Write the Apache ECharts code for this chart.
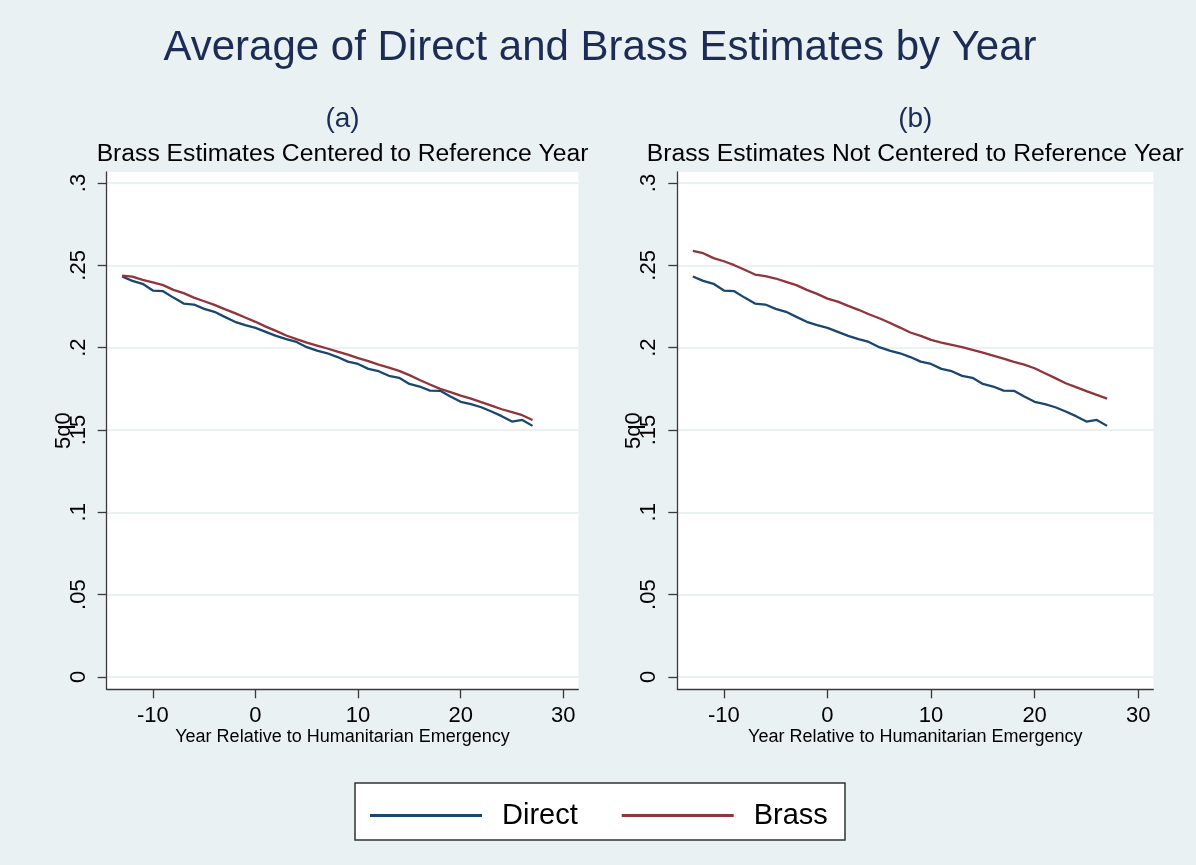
<!DOCTYPE html>
<html>
<head>
<meta charset="utf-8">
<title>Average of Direct and Brass Estimates by Year</title>
<script src="https://cdn.jsdelivr.net/npm/echarts@6/dist/echarts.min.js"></script>
<style>
  html, body { margin: 0; padding: 0; background: #eaf1f3; }
  #chart { width: 1196px; height: 865px; }
</style>
</head>
<body>
<div id="chart"></div>
<script>
// Years relative to the humanitarian emergency
const years = [-13, -12, -11, -10, -9, -8, -7, -6, -5, -4, -3, -2, -1, 0, 1, 2, 3, 4, 5, 6, 7,
  8, 9, 10, 11, 12, 13, 14, 15, 16, 17, 18, 19, 20, 21, 22, 23, 24, 25, 26, 27];

// 5q0, direct estimates
const direct = [0.2432, 0.2406, 0.2388, 0.2347, 0.2343, 0.2304, 0.2268, 0.2262, 0.2236, 0.2218,
  0.2187, 0.2157, 0.2137, 0.2120, 0.2096, 0.2072, 0.2052, 0.2035, 0.2003, 0.1982, 0.1966,
  0.1943, 0.1915, 0.1901, 0.1871, 0.1857, 0.1829, 0.1817, 0.1780, 0.1764, 0.1739, 0.1738,
  0.1703, 0.1671, 0.1657, 0.1638, 0.1612, 0.1584, 0.1551, 0.1561, 0.1525];

// 5q0, Brass estimates centered to reference year
const brassCentered = [0.2438, 0.2432, 0.2412, 0.2396, 0.2380, 0.2351, 0.2331, 0.2304, 0.2282, 0.2260,
  0.2234, 0.2210, 0.2183, 0.2157, 0.2128, 0.2102, 0.2074, 0.2052, 0.2031, 0.2013, 0.1995,
  0.1976, 0.1958, 0.1936, 0.1918, 0.1897, 0.1879, 0.1859, 0.1833, 0.1804, 0.1776, 0.1750,
  0.1730, 0.1709, 0.1691, 0.1669, 0.1648, 0.1626, 0.1608, 0.1590, 0.1561];

// 5q0, Brass estimates not centered to reference year
const brassNotCentered = [0.2588, 0.2574, 0.2544, 0.2525, 0.2501, 0.2473, 0.2444, 0.2434, 0.2420, 0.2400,
  0.2380, 0.2351, 0.2327, 0.2298, 0.2280, 0.2254, 0.2230, 0.2203, 0.2179, 0.2151, 0.2122,
  0.2092, 0.2072, 0.2047, 0.2031, 0.2017, 0.2003, 0.1987, 0.1970, 0.1952, 0.1934, 0.1914,
  0.1897, 0.1875, 0.1845, 0.1815, 0.1784, 0.1760, 0.1736, 0.1713, 0.1691];

const xTicks = [-10, 0, 10, 20, 30];
const yTicks = [0, 0.05, 0.1, 0.15, 0.2, 0.25, 0.3];

const panelTitles = ['(a)', '(b)'];
const panelSubtitles = ['Brass Estimates Centered to Reference Year',
  'Brass Estimates Not Centered to Reference Year'];

const FONT = '"Liberation Sans", Arial, Helvetica, sans-serif';
const NAVY = '#1c2c55';
const BG = '#eaf1f3';
const AXIS = '#3a3a3a';
const C_DIRECT = '#1a476f';
const C_BRASS = '#90353b';

const grids = [
  { left: 106.7, top: 172, width: 471.6, height: 517.3 },
  { left: 677.3, top: 172, width: 476, height: 517.3 }
];

function pairs(ys) { return years.map((x, i) => [x, ys[i]]); }

function xAxisFor(idx) {
  return {
    gridIndex: idx, type: 'value', min: -14.5, max: 31.46,
    name: 'Year Relative to Humanitarian Emergency',
    nameLocation: 'middle', nameGap: 39, nameMoveOverlap: false,
    nameTextStyle: { fontFamily: FONT, fontSize: 18, color: '#000' },
    axisLine: { show: true, onZero: false, lineStyle: { color: AXIS, width: 1.3 } },
    axisTick: { show: true, length: 9, customValues: xTicks, lineStyle: { color: AXIS, width: 1.3 } },
    axisLabel: { customValues: xTicks, margin: 16, fontFamily: FONT, fontSize: 22, color: '#000' },
    splitLine: { show: false }
  };
}

function yAxisFor(idx) {
  return {
    gridIndex: idx, type: 'value', min: -0.0075, max: 0.3067,
    // the 5q0 title sits over the tick labels, as drawn
    name: '5q0', nameLocation: 'middle', nameGap: 32, nameRotate: 90, nameMoveOverlap: false,
    nameTextStyle: { fontFamily: FONT, fontSize: 22, color: '#000' },
    axisLine: { show: true, onZero: false, lineStyle: { color: AXIS, width: 1.3 } },
    axisTick: { show: true, length: 9, customValues: yTicks, lineStyle: { color: AXIS, width: 1.3 } },
    axisLabel: {
      customValues: yTicks, rotate: 90, margin: 17, fontFamily: FONT, fontSize: 22, color: '#000',
      formatter: v => (v === 0 ? '0' : String(+v.toFixed(2)).replace(/^0/, ''))
    },
    splitLine: { show: true, lineStyle: { color: BG, width: 2 } }
  };
}

function lineSeries(name, data, color, idx) {
  return {
    name, type: 'line', xAxisIndex: idx, yAxisIndex: idx,
    data: pairs(data), showSymbol: false, symbol: 'none',
    lineStyle: { color, width: 2.3 }, itemStyle: { color },
    emphasis: { disabled: true }
  };
}

const panelCenters = grids.map(g => g.left + g.width / 2);

const texts = [
  { type: 'text', x: 600, y: 48, style: { text: 'Average of Direct and Brass Estimates by Year',
    fill: NAVY, font: '42px ' + FONT, textAlign: 'center', textVerticalAlign: 'middle' } }
];
panelCenters.forEach((cx, i) => {
  texts.push({ type: 'text', x: cx, y: 119, style: { text: panelTitles[i], fill: NAVY,
    font: '28px ' + FONT, textAlign: 'center', textVerticalAlign: 'middle' } });
  texts.push({ type: 'text', x: cx, y: 154, style: { text: panelSubtitles[i], fill: '#000',
    font: '24.7px ' + FONT, textAlign: 'center', textVerticalAlign: 'middle' } });
});
// legend frame
texts.push({ type: 'rect', z: 0, shape: { x: 355, y: 783, width: 490, height: 57 },
  style: { fill: '#fff', stroke: '#333', lineWidth: 1.5 } });

const chart = echarts.init(document.getElementById('chart'), null, { renderer: 'canvas' });
chart.setOption({
  animation: false,
  backgroundColor: BG,
  textStyle: { fontFamily: FONT },
  graphic: texts,
  grid: grids.map(g => Object.assign({ show: true, backgroundColor: '#fff', borderWidth: 0 }, g)),
  xAxis: [xAxisFor(0), xAxisFor(1)],
  yAxis: [yAxisFor(0), yAxisFor(1)],
  legend: {
    left: 365, top: 796, icon: 'rect', itemWidth: 112, itemHeight: 3, itemGap: 44,
    selectedMode: false, z: 5,
    textStyle: { fontFamily: FONT, fontSize: 29, color: '#000', padding: [0, 0, 0, 15] },
    data: ['Direct', 'Brass']
  },
  series: [
    lineSeries('Direct', direct, C_DIRECT, 0),
    lineSeries('Brass', brassCentered, C_BRASS, 0),
    lineSeries('Direct', direct, C_DIRECT, 1),
    lineSeries('Brass', brassNotCentered, C_BRASS, 1)
  ]
});
</script>
</body>
</html>
